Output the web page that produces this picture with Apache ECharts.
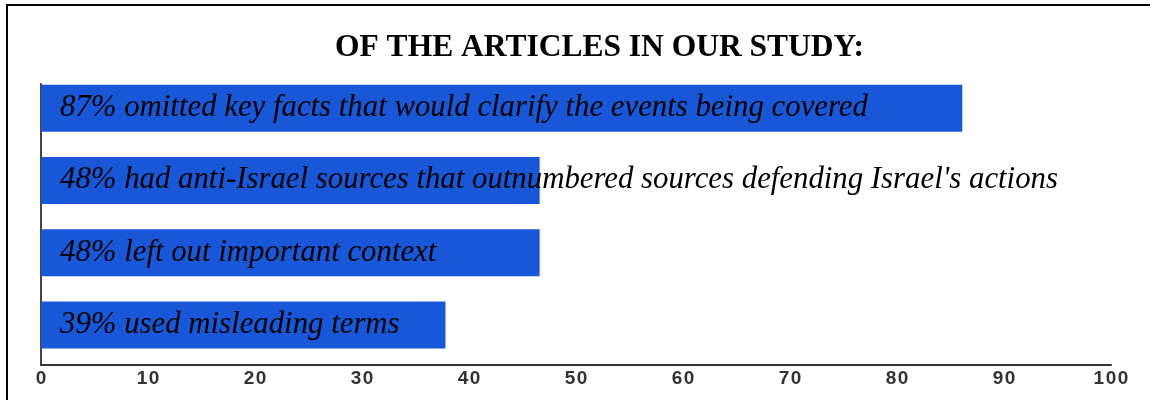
<!DOCTYPE html>
<html>
<head>
<meta charset="utf-8">
<style>html,body{margin:0;padding:0;background:#fff;}#c{width:1150px;height:400px;}</style>
<script src="https://cdn.jsdelivr.net/npm/echarts@6/dist/echarts.min.js"></script>
</head>
<body>
<div id="c"></div>
<script>
const titleText = 'OF THE ARTICLES IN OUR STUDY:';
const categories = ['omitted', 'antiIsrael', 'context', 'terms'];
const labels = [
  "87% omitted key facts that would clarify the events being covered",
  "48% had anti-Israel sources that outnumbered sources defending Israel's actions",
  "48% left out important context",
  "39% used misleading terms"
];
const values = [86.1, 46.6, 46.6, 37.8];
const xTicks = [0, 10, 20, 30, 40, 50, 60, 70, 80, 90, 100];

const chart = echarts.init(document.getElementById('c'), null, {renderer: 'canvas'});
chart.setOption({
  backgroundColor: '#fff',
  animation: false,
  title: {
    text: titleText, left: 330, top: 27,
    textStyle: {fontFamily: 'Liberation Serif', fontWeight: 'bold', fontSize: 31.5, color: '#000'}
  },
  graphic: [{
    type: 'rect', shape: {x: 7, y: 5, width: 1200, height: 500},
    style: {fill: 'none', stroke: '#000', lineWidth: 2}, silent: true, z: 100
  }],
  grid: [
    {left: 41, right: 39, top: 72, bottom: 39},
    {left: 41, right: 39, top: 84, bottom: 35}
  ],
  xAxis: [{
    type: 'value', gridIndex: 0, min: xTicks[0], max: xTicks[xTicks.length - 1], interval: 10,
    offset: 4,
    axisLine: {show: true, lineStyle: {color: '#333', width: 2}},
    axisTick: {show: false}, splitLine: {show: false},
    axisLabel: {
      margin: 4, fontFamily: 'Liberation Sans', fontSize: 19, fontWeight: 'bold', color: '#333',
      formatter: v => String(v).split('').join('\u200A')
    }
  }, {
    type: 'value', gridIndex: 1, min: 0, max: 100, show: false
  }],
  yAxis: [{
    type: 'category', gridIndex: 0, data: categories, inverse: true,
    axisLine: {show: false}, axisTick: {show: false}, axisLabel: {show: false}
  }, {
    type: 'category', gridIndex: 1, data: categories, inverse: true,
    axisLine: {show: true, lineStyle: {color: '#444', width: 2}},
    axisTick: {show: false}, axisLabel: {show: false}
  }],
  series: [{
    type: 'bar', xAxisIndex: 0, yAxisIndex: 0,
    data: values, barWidth: 47,
    itemStyle: {color: '#1857d8'},
    label: {
      show: true, position: 'insideLeft', distance: 19,
      formatter: p => labels[p.dataIndex],
      fontFamily: 'Liberation Serif', fontStyle: 'italic', fontSize: 30.8, color: '#000'
    }
  }]
});
</script>
</body>
</html>
